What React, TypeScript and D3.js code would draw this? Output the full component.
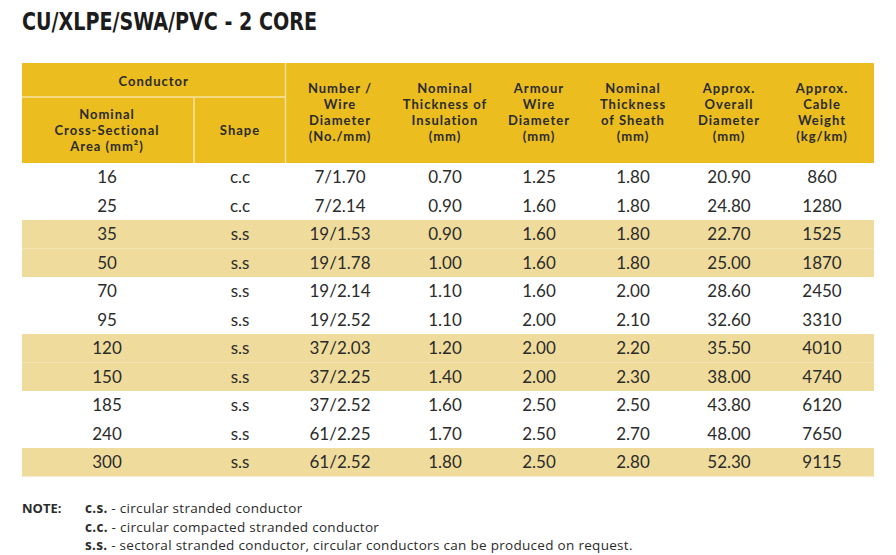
import React from "react";
import * as d3 from "d3";

const title = "CU/XLPE/SWA/PVC - 2 CORE";
const areas = ["16", "25", "35", "50", "70", "95", "120", "150", "185", "240", "300"];
const shapes = ["c.c", "c.c", "s.s", "s.s", "s.s", "s.s", "s.s", "s.s", "s.s", "s.s", "s.s"];
const wireDiameters = ["7/1.70", "7/2.14", "19/1.53", "19/1.78", "19/2.14", "19/2.52", "37/2.03", "37/2.25", "37/2.52", "61/2.25", "61/2.52"];
const insulation = ["0.70", "0.90", "0.90", "1.00", "1.10", "1.10", "1.20", "1.40", "1.60", "1.70", "1.80"];
const armour = ["1.25", "1.60", "1.60", "1.60", "1.60", "2.00", "2.00", "2.00", "2.50", "2.50", "2.50"];
const sheath = ["1.80", "1.80", "1.80", "1.80", "2.00", "2.10", "2.20", "2.30", "2.50", "2.70", "2.80"];
const overall = ["20.90", "24.80", "22.70", "25.00", "28.60", "32.60", "35.50", "38.00", "43.80", "48.00", "52.30"];
const weight = ["860", "1280", "1525", "1870", "2450", "3310", "4010", "4740", "6120", "7650", "9115"];
const shadedRows = [2, 3, 6, 7, 10];

const headerGroup = "Conductor";
const headers: string[][] = [
  ["Nominal", "Cross-Sectional", "Area (mm²)"],
  ["Shape"],
  ["Number /", "Wire", "Diameter", "(No./mm)"],
  ["Nominal", "Thickness of", "Insulation", "(mm)"],
  ["Armour", "Wire", "Diameter", "(mm)"],
  ["Nominal", "Thickness", "of Sheath", "(mm)"],
  ["Approx.", "Overall", "Diameter", "(mm)"],
  ["Approx.", "Cable", "Weight", "(kg/km)"],
];
const notes = [
  ["c.s.", "circular stranded conductor"],
  ["c.c.", "circular compacted stranded conductor"],
  ["s.s.", "sectoral stranded conductor, circular conductors can be produced on request."],
];

const columns = [areas, shapes, wireDiameters, insulation, armour, sheath, overall, weight];

export default function App() {
  const W = 896, H = 555;
  const left = 22, right = 874;
  const headTop = 63, headBottom = 163, groupBottom = 97;
  const rowBottom = 476.5;
  const colCenters = [107, 240, 340, 445, 539, 633, 729, 822];
  const sep1 = 194, sep2 = 285.5;

  const y = d3.scaleBand<number>().domain(d3.range(areas.length)).range([headBottom, rowBottom]);
  const yellow = "#ebbd1e";
  const band = "#efdc9c";
  const textDark = "#2b2b2b";
  const headFont = "Lato, 'Open Sans', sans-serif";
  const bodyFont = "Lato, 'Open Sans', sans-serif";
  const noteFont = "'Open Sans', Lato, sans-serif";

  return (
    <svg width={W} height={H} style={{ position: "absolute", left: 0, top: 0, background: "#fff" }}>
      <rect x={0} y={0} width={W} height={H} fill="#fff" />
      <text
        x={22}
        y={30}
        fontFamily="'DejaVu Sans Condensed', 'Liberation Sans Narrow', 'Roboto', sans-serif"
        fontWeight={700}
        fontStretch="condensed"
        fontSize={25}
        fill="#1c1c1c"
        textLength={295}
        lengthAdjust="spacingAndGlyphs"
      >
        {title}
      </text>

      {/* header */}
      <rect x={left} y={headTop} width={right - left} height={headBottom - headTop} fill={yellow} />
      <line x1={left} x2={sep2} y1={groupBottom} y2={groupBottom} stroke="#f6e3a0" strokeWidth={1.5} />
      <line x1={sep1} x2={sep1} y1={groupBottom} y2={headBottom} stroke="#f6e3a0" strokeWidth={1.5} />
      <line x1={sep2} x2={sep2} y1={headTop} y2={headBottom} stroke="#f6e3a0" strokeWidth={1.5} />
      <text x={(left + sep2) / 2} y={85.5} textAnchor="middle" fontFamily={headFont} fontWeight={700} fontSize={13} fill={textDark} letterSpacing={1}>
        {headerGroup}
      </text>
      {headers.map((lines, i) => {
        const lh = 16;
        const cy = i < 2 ? 130.5 : 112;
        const start = cy - ((lines.length - 1) * lh) / 2 + 4.5;
        return (
          <text key={i} textAnchor="middle" fontFamily={headFont} fontWeight={700} fontSize={13} fill={textDark} letterSpacing={1}>
            {lines.map((l, j) => (
              <tspan key={j} x={colCenters[i]} y={start + j * lh}>
                {l}
              </tspan>
            ))}
          </text>
        );
      })}

      {/* shaded bands */}
      {shadedRows.map((r) => (
        <rect key={r} x={left} y={y(r)!} width={right - left} height={y.bandwidth()} fill={band} />
      ))}

      {/* body */}
      {areas.map((_, r) => (
        <g key={r}>
          {columns.map((col, c) => (
            <text
              key={c}
              x={colCenters[c]}
              y={y(r)! + y.bandwidth() / 2 + 6}
              textAnchor="middle"
              fontFamily={bodyFont}
              fontSize={17}
              fill={textDark}
            >
              {col[r]}
            </text>
          ))}
        </g>
      ))}

      {/* notes */}
      <text x={22} y={513} fontFamily={noteFont} fontWeight={700} fontSize={13} fill={textDark}>
        NOTE:
      </text>
      {notes.map((n, i) => (
        <text key={i} x={85} y={513 + i * 18.5} fontFamily={noteFont} fontSize={13.5} fill={textDark} letterSpacing={0.3}>
          <tspan fontWeight={700}>{n[0]}</tspan>
          <tspan> - {n[1]}</tspan>
        </text>
      ))}
    </svg>
  );
}
